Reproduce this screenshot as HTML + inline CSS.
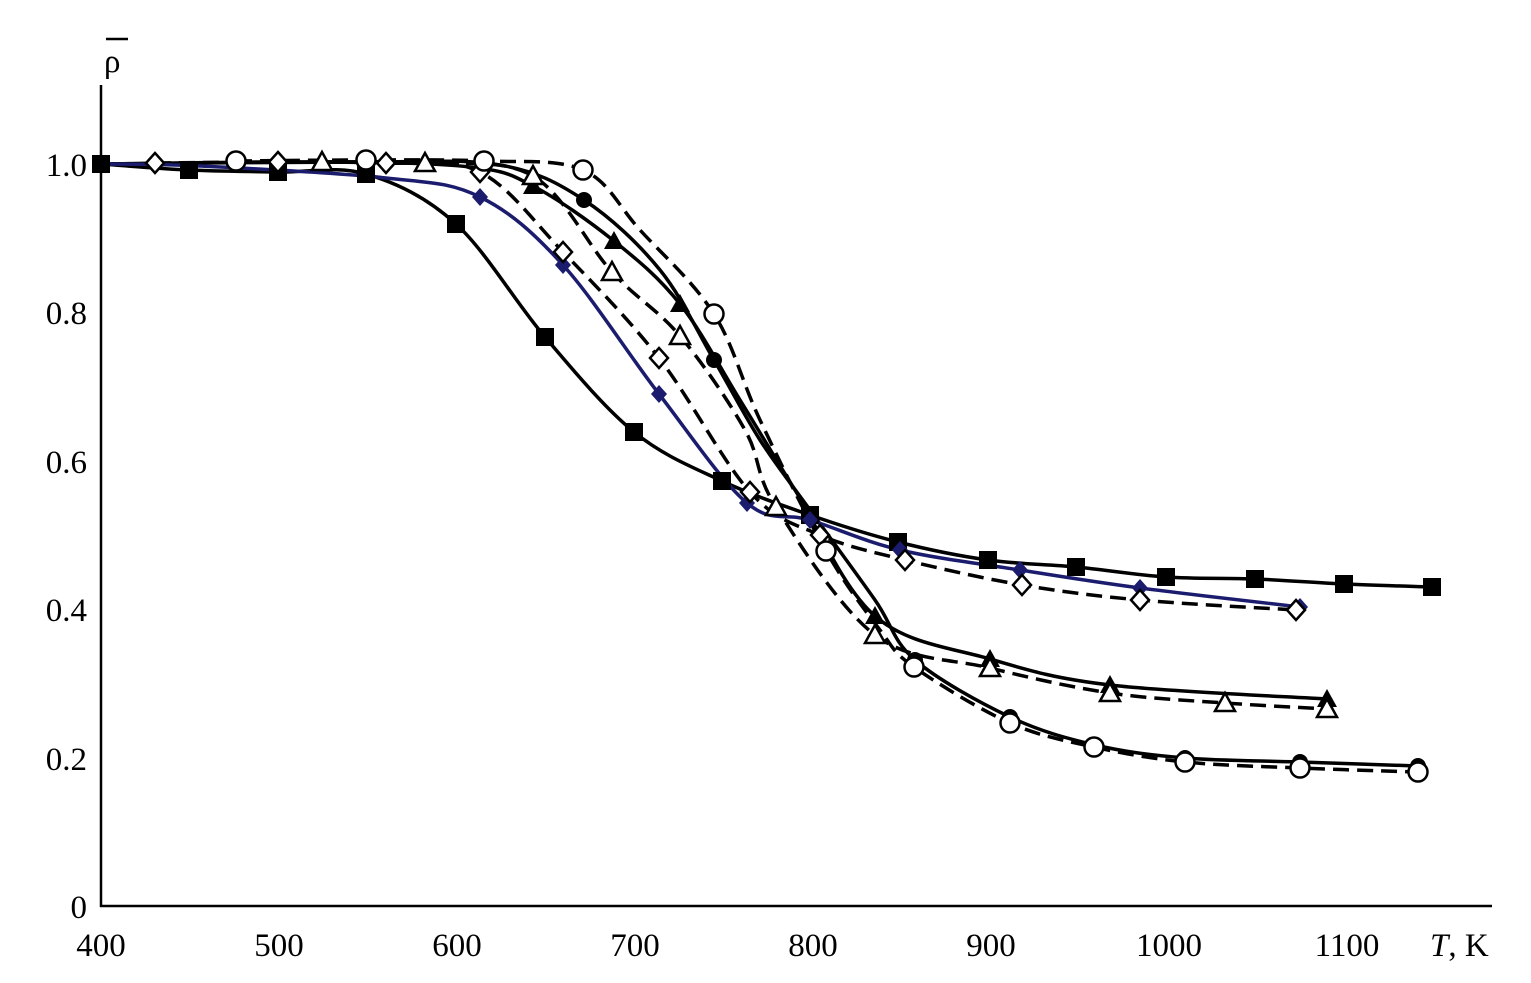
<!DOCTYPE html><html><head><style>body{margin:0;background:#fff}svg{display:block}text{font-family:"Liberation Serif",serif;font-size:33px;fill:#000}</style></head><body>
<svg id="s" width="1531" height="983" xmlns="http://www.w3.org/2000/svg">
<line x1="101" y1="85" x2="101" y2="907" stroke="#000" stroke-width="2.5"/>
<line x1="100" y1="906" x2="1492" y2="906" stroke="#000" stroke-width="2.5"/>
<g text-anchor="end"><text x="87" y="176">1.0</text><text x="87" y="324">0.8</text><text x="87" y="473">0.6</text><text x="87" y="621">0.4</text><text x="87" y="770">0.2</text><text x="87" y="918">0</text></g>
<g text-anchor="middle"><text x="101" y="956">400</text><text x="279" y="956">500</text><text x="457" y="956">600</text><text x="635" y="956">700</text><text x="813" y="956">800</text><text x="991" y="956">900</text><text x="1169" y="956">1000</text><text x="1347" y="956">1100</text></g>
<text x="1430" y="956"><tspan font-style="italic">T</tspan>, K</text>
<text x="104" y="72" font-size="42">ρ</text><line x1="106" y1="39" x2="128" y2="39" stroke="#000" stroke-width="2.5"/>
<g id="g"></g>
</svg>
<script>
const g=document.getElementById('g');let h='';
function path(p,col,dash){let d='M'+p[0][0]+','+p[0][1];for(let i=0;i<p.length-1;i++){const a=p[Math.max(i-1,0)],b=p[i],c=p[i+1],e=p[Math.min(i+2,p.length-1)];d+=' C'+(b[0]+(c[0]-a[0])/6)+','+(b[1]+(c[1]-a[1])/6)+' '+(c[0]-(e[0]-b[0])/6)+','+(c[1]-(e[1]-b[1])/6)+' '+c[0]+','+c[1];}
h+=`<path d="${d}" fill="none" stroke="${col}" stroke-width="3.5" ${dash?'stroke-dasharray="16,8"':''}/>`;}
function mk(p,t,skip){p.forEach((q,i)=>{if(skip&&skip.includes(i))return;const[x,y]=q;
if(t=='sq')h+=`<rect x="${x-9}" y="${y-9}" width="18" height="18" fill="#000"/>`;
if(t=='bd')h+=`<path d="M${x},${y-9}L${x+8},${y}L${x},${y+9}L${x-8},${y}Z" fill="#1c1c6e"/>`;
if(t=='od')h+=`<path d="M${x},${y-10}L${x+9},${y}L${x},${y+10}L${x-9},${y}Z" fill="#fff" stroke="#000" stroke-width="2.5"/>`;
if(t=='ft')h+=`<path d="M${x},${y-10}L${x+10},${y+8}L${x-10},${y+8}Z" fill="#000"/>`;
if(t=='ot')h+=`<path d="M${x},${y-10}L${x+10},${y+8}L${x-10},${y+8}Z" fill="#fff" stroke="#000" stroke-width="2.5"/>`;
if(t=='fc')h+=`<circle cx="${x}" cy="${y}" r="8" fill="#000"/>`;
if(t=='oc')h+=`<circle cx="${x}" cy="${y}" r="9.5" fill="#fff" stroke="#000" stroke-width="2.5"/>`;});}
const S=[[101,164],[189,170],[278,172],[366,174],[456,224],[545,337],[634,432],[722,481],[810,515],[898,542],[988,560],[1076,567],[1166,577],[1255,579],[1344,584],[1432,587]];
const B=[[101,164],[200,166],[386,178],[480,197],[563,265],[659,394],[747,503],[810,520],[900,550],[1020,570],[1140,588],[1300,607]];
const D=[[155,163],[278,162],[386,163],[480,172],[563,252],[659,358],[750,492],[820,535],[905,560],[1022,585],[1140,600],[1296,610]];
const FT=[[101,164],[320,162],[470,167],[533,186],[614,241],[680,304],[740,400],[795,490],[875,616],[990,659],[1110,685],[1327,699]];
const OT=[[322,162],[425,163],[533,176],[612,272],[680,336],[745,430],[776,507],[875,635],[990,668],[1110,693],[1225,703],[1327,709]];
const FC=[[101,164],[366,162],[500,165],[584,200],[660,270],[714,360],[760,440],[810,510],[875,600],[915,660],[1010,717],[1095,745],[1185,758],[1300,762],[1418,766]];
const OC=[[236,161],[366,160],[484,161],[583,170],[640,230],[714,314],[760,420],[826,551],[880,630],[914,667],[1010,723],[1094,747],[1185,762],[1300,768],[1418,772]];
path(OC,'#000',1);path(OT,'#000',1);path(D,'#000',1);path(FC,'#000');path(FT,'#000');path(S,'#000');path(B,'#1c1c6e');
mk(S,'sq');mk(B,'bd',[0,1,2]);mk(D,'od');mk(FT,'ft',[0,1,2,6,7]);mk(OT,'ot',[5]);mk(FC,'fc',[0,1,2,4,6,7,8]);mk(OC,'oc',[4,6,8]);
g.innerHTML=h;
</script>
</body></html>
